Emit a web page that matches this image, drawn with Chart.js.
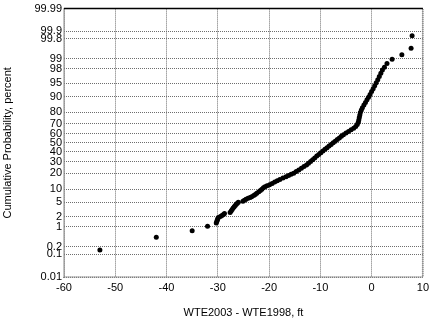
<!DOCTYPE html>
<html>
<head>
<meta charset="utf-8">
<script src="https://cdn.jsdelivr.net/npm/chart.js@4.4.0/dist/chart.umd.min.js"></script>
<style>
  html, body { margin: 0; padding: 0; background: #fff; }
  #wrap { width: 433px; height: 322px; }
</style>
</head>
<body>
<div id="wrap"><canvas id="prob-chart"></canvas></div>
<script>
// water-table elevation change, ft (sorted), and cumulative probability, percent
const diffFt = [
  -53.0, -42.0, -35.0, -32.0,
  -30.3, -30.2, -30.1, -30.0, -29.9, -29.5, -29.2, -28.9, -28.7,
  -27.6, -27.4, -27.2, -27.0, -26.8, -26.6, -26.4, -26.2, -26.0,
  -25.1, -24.8, -24.5, -24.1, -23.7, -23.4, -23.0, -22.7, -22.4, -22.0,
  -21.7, -21.4, -21.1, -20.8, -20.4, -19.9, -19.4, -18.9, -18.4, -17.9,
  -17.3, -16.7, -16.2, -15.7, -15.2, -14.7, -14.2, -13.7, -13.2, -12.7,
  -12.3, -11.9, -11.5, -11.1, -10.7, -10.3, -9.9, -9.5, -9.1, -8.7,
  -8.3, -7.9, -7.5, -7.1, -6.7, -6.3, -5.9, -5.5, -5.0, -4.5,
  -4.0, -3.5, -3.1, -2.8, -2.6, -2.5, -2.4, -2.3, -2.2, -2.0,
  -1.8, -1.5, -1.2, -0.9, -0.6, -0.3, 0.0, 0.3, 0.6, 0.9,
  1.2, 1.5, 1.8, 2.1, 2.5, 3.0, 4.0, 5.9, 7.7, 7.9
];
const cumPct = [
  0.15, 0.44, 0.74, 1.03,
  1.32, 1.47, 1.62, 1.76, 1.91, 2.06, 2.2, 2.35, 2.5,
  2.65, 2.94, 3.24, 3.53, 3.82, 4.12, 4.41, 4.71, 5.0,
  5.29, 5.59, 5.88, 6.18, 6.47, 6.76, 7.2, 7.6, 8.1, 8.7,
  9.3, 9.9, 10.6, 11.2, 11.7, 12.3, 13.0, 13.8, 14.7, 15.5,
  16.4, 17.3, 18.2, 19.1, 20.0, 21.3, 22.6, 24.0, 25.5, 27.0,
  28.5, 30.2, 32.0, 33.8, 35.6, 37.4, 39.2, 41.0, 42.8, 44.6,
  46.4, 48.2, 50.0, 51.8, 53.6, 55.4, 57.2, 58.9, 60.6, 62.3,
  64.0, 65.7, 67.4, 69.5, 71.6, 73.7, 75.8, 77.9, 80.0, 81.8,
  83.5, 85.2, 86.8, 88.3, 89.7, 91.0, 92.2, 93.3, 94.3, 95.2,
  96.0, 96.7, 97.3, 97.8, 98.2, 98.6, 98.97, 99.26, 99.56, 99.85
];
const yTickPct = [0.01, 0.1, 0.2, 1, 2, 5, 10, 20, 30, 40, 50, 60, 70, 80, 90, 95, 98, 99, 99.8, 99.9, 99.99];
const yTickLabels = ['0.01', '0.1', '0.2', '1', '2', '5', '10', '20', '30', '40', '50', '60', '70', '80', '90', '95', '98', '99', '99.8', '99.9', '99.99'];
const xMin = -60, xMax = 10, xStep = 10;

// normal probability axis: percent -> standard normal deviate (Acklam)
function probToZ(pct) {
    const p = pct / 100;
    const a = [-3.969683028665376e+01, 2.209460984245205e+02, -2.759285104469687e+02, 1.383577518672690e+02, -3.066479806614716e+01, 2.506628277459239e+00];
    const b = [-5.447609879822406e+01, 1.615858368580409e+02, -1.556989798598866e+02, 6.680131188771972e+01, -1.328068155288572e+01];
    const c = [-7.784894002430293e-03, -3.223964580411365e-01, -2.400758277161838e+00, -2.549732539343734e+00, 4.374664141464968e+00, 2.938163982698783e+00];
    const d = [7.784695709041462e-03, 3.224671290700398e-01, 2.445134137142996e+00, 3.754408661907416e+00];
    const pl = 0.02425;
    let q, r;
    if (p < pl) {
        q = Math.sqrt(-2 * Math.log(p));
        return (((((c[0] * q + c[1]) * q + c[2]) * q + c[3]) * q + c[4]) * q + c[5]) / ((((d[0] * q + d[1]) * q + d[2]) * q + d[3]) * q + 1);
    }
    if (p > 1 - pl) {
        q = Math.sqrt(-2 * Math.log(1 - p));
        return -(((((c[0] * q + c[1]) * q + c[2]) * q + c[3]) * q + c[4]) * q + c[5]) / ((((d[0] * q + d[1]) * q + d[2]) * q + d[3]) * q + 1);
    }
    q = p - 0.5;
    r = q * q;
    return (((((a[0] * r + a[1]) * r + a[2]) * r + a[3]) * r + a[4]) * r + a[5]) * q / (((((b[0] * r + b[1]) * r + b[2]) * r + b[3]) * r + b[4]) * r + 1);
}

let points = diffFt.map((x, i) => ({ x: x, y: probToZ(cumPct[i]) }));

// plot frame: dotted grey left/bottom/right, solid black top
const framePlugin = {
    id: 'frame',
    afterDatasetsDraw(chart) {
        const { ctx, chartArea: a } = chart;
        ctx.save();
        ctx.strokeStyle = '#8a8a8a';
        ctx.lineWidth = 2;
        ctx.setLineDash([1, 1]);
        ctx.beginPath();
        ctx.moveTo(a.left, a.top);
        ctx.lineTo(a.left, a.bottom);
        ctx.lineTo(a.right, a.bottom);
        ctx.lineTo(a.right, a.top);
        ctx.stroke();
        ctx.setLineDash([]);
        ctx.strokeStyle = '#000';
        ctx.lineWidth = 1.5;
        ctx.beginPath();
        ctx.moveTo(a.left, a.top);
        ctx.lineTo(a.right, a.top);
        ctx.stroke();
        ctx.restore();
    }
};

Chart.defaults.font.family = '"Liberation Sans", Arial, Helvetica, sans-serif';
Chart.defaults.font.size = 11;
Chart.defaults.color = '#000';

let prob_canvas = document.getElementById('prob-chart').getContext('2d');
let prob_chart = new Chart(prob_canvas, {
    type: 'scatter',
    data: {
        datasets: [{
            data: points,
            backgroundColor: '#000',
            borderColor: '#000',
            borderWidth: 0,
            pointRadius: 2.5,
            pointHoverRadius: 2.5
        }]
    },
    options: {
        responsive: true,
        maintainAspectRatio: false,
        animation: false,
        layout: { padding: { top: 7, right: 6, left: 0, bottom: 0 } },
        plugins: {
            legend: { display: false },
            tooltip: { enabled: false }
        },
        scales: {
            x: {
                type: 'linear',
                min: xMin,
                max: xMax,
                afterFit: (scale) => { scale.height = 45; },
                ticks: { stepSize: xStep, padding: 4, autoSkip: false, maxRotation: 0 },
                grid: { color: '#6e6e6e', lineWidth: 1, drawTicks: false },
                border: { display: false, dash: [1, 1] },
                title: {
                    display: true,
                    text: 'WTE2003 - WTE1998, ft',
                    padding: { top: 0, bottom: 2 }
                }
            },
            y: {
                type: 'linear',
                min: probToZ(yTickPct[0]),
                max: probToZ(yTickPct[yTickPct.length - 1]),
                afterFit: (scale) => { scale.width = 64; },
                afterBuildTicks: (scale) => {
                    scale.ticks = yTickPct.map(p => ({ value: probToZ(p) }));
                },
                ticks: {
                    padding: 2,
                    autoSkip: false,
                    callback: (value, index) => yTickLabels[index]
                },
                grid: { color: '#6e6e6e', lineWidth: 1, drawTicks: false },
                border: { display: false, dash: [1, 1] },
                title: {
                    display: true,
                    text: 'Cumulative Probability, percent',
                    padding: { top: 1, bottom: 0 }
                }
            }
        }
    },
    plugins: [framePlugin]
});
</script>
</body>
</html>
